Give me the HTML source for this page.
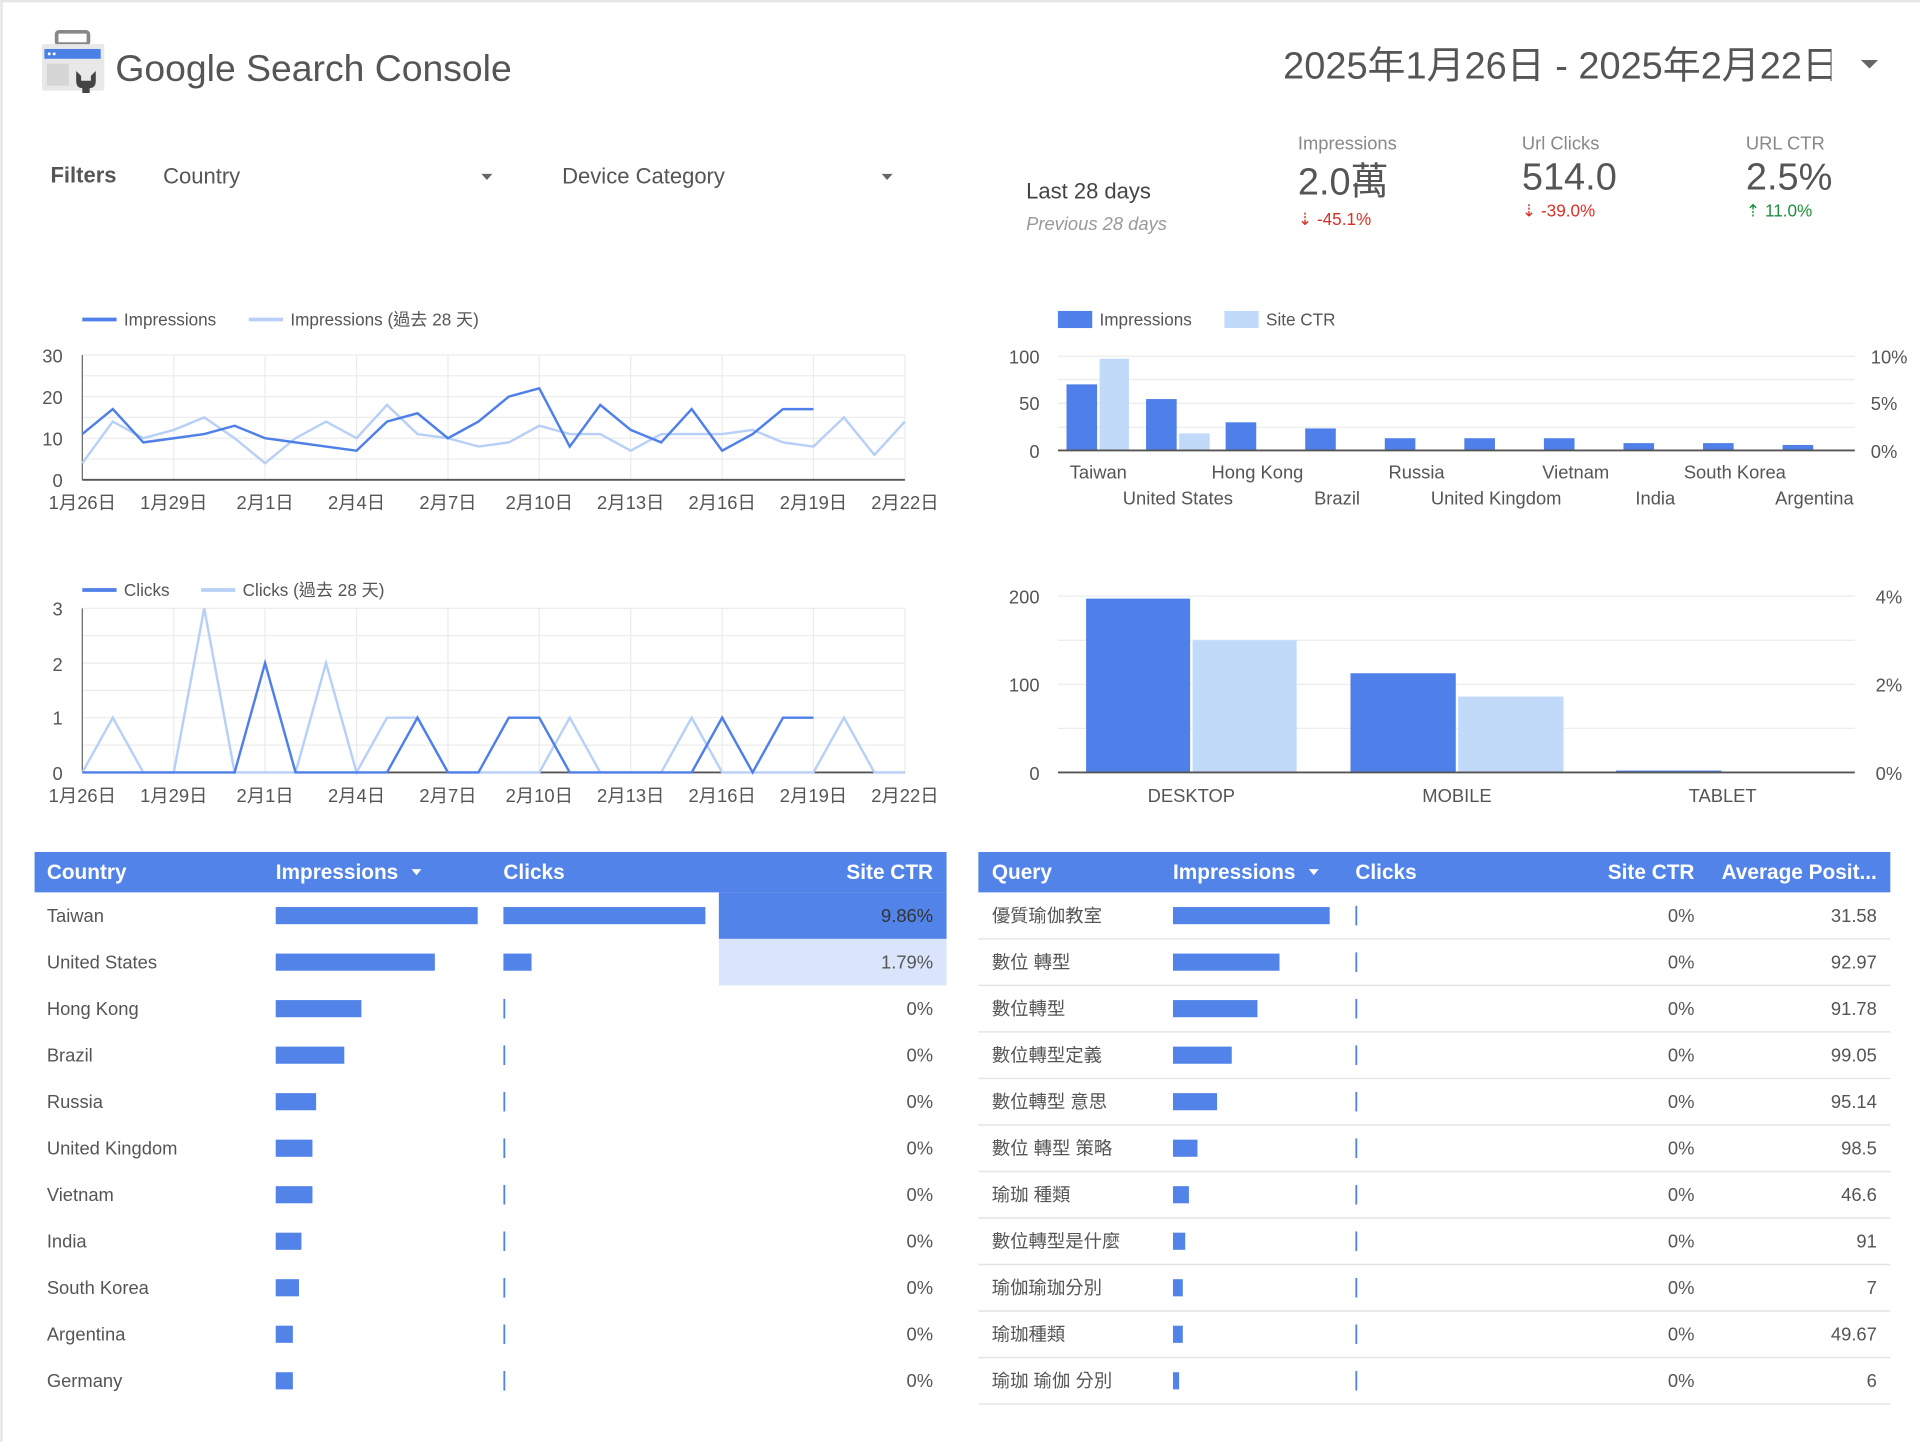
<!DOCTYPE html>
<html><head><meta charset="utf-8"><style>
html,body{margin:0;padding:0;background:#fff;}
svg{display:block;}
text{font-family:"Liberation Sans","Noto Sans CJK TC",sans-serif;}
</style></head><body>
<svg width="1920" height="1442" viewBox="0 0 1568 1178" xmlns="http://www.w3.org/2000/svg">
<rect x="0" y="0" width="1568" height="1178" fill="#fff"/>
<rect x="0" y="0" width="1568" height="2" fill="#e6e6e6"/>
<rect x="0" y="0" width="2" height="1178" fill="#e6e6e6"/>

<!-- logo -->
<rect x="46" y="26" width="26" height="10" rx="2" fill="none" stroke="#888" stroke-width="3"/>
<rect x="34" y="36" width="51" height="38" rx="2" fill="#e8e8e8"/>
<rect x="36" y="40" width="46" height="8" fill="#4a7fe6"/>
<circle cx="40" cy="44" r="1.2" fill="#fff"/><circle cx="44" cy="44" r="1.2" fill="#fff"/>
<rect x="38" y="52" width="18" height="18" fill="#d6d6d6"/>
<path d="M62 58 L62 66 Q62 72 67 72 L67 76 L73 76 L73 72 Q78 72 78 66 L78 58 L74 62 L74 66 L66 66 L66 62 Z" fill="#444"/>
<text x="94" y="66" font-size="30.5" fill="#555">Google Search Console</text>

<svg x="1040" y="20" width="456" height="60"><text x="8" y="44" font-size="31" fill="#555">2025年1月26日 - 2025年2月22日</text></svg>
<path d="M1520 49 L1534 49 L1527 56 Z" fill="#666"/>

<!-- filters -->
<text x="41" y="149" font-size="18" font-weight="bold" fill="#555">Filters</text>
<text x="133" y="150" font-size="18" fill="#555">Country</text>
<path d="M393 142 L402 142 L397.5 147 Z" fill="#666"/>
<text x="459" y="150" font-size="18" fill="#555">Device Category</text>
<path d="M720 142 L729 142 L724.5 147 Z" fill="#666"/>

<!-- KPIs -->
<text x="838" y="162" font-size="18" fill="#444">Last 28 days</text>
<text x="838" y="188" font-size="15" font-style="italic" fill="#999">Previous 28 days</text>
<text x="1060" y="122" font-size="15" fill="#888">Impressions</text>
<text x="1060" y="159" font-size="31" fill="#555">2.0萬</text>
<text x="1060" y="184" font-size="14" fill="#d93025">⇣ -45.1%</text>
<text x="1243" y="122" font-size="15" fill="#888">Url Clicks</text>
<text x="1243" y="155" font-size="31" fill="#555">514.0</text>
<text x="1243" y="177" font-size="14" fill="#d93025">⇣ -39.0%</text>
<text x="1426" y="122" font-size="15" fill="#888">URL CTR</text>
<text x="1426" y="155" font-size="31" fill="#555">2.5%</text>
<text x="1426" y="177" font-size="14" fill="#1e8e3e">⇡ 11.0%</text>

<!-- Impressions line chart -->
<g font-size="14" fill="#555">
<line x1="67" y1="261" x2="95" y2="261" stroke="#4f7fe8" stroke-width="3"/>
<text x="101" y="266">Impressions</text>
<line x1="203" y1="261" x2="231" y2="261" stroke="#b8d0f8" stroke-width="3"/>
<text x="237" y="266">Impressions (過去 28 天)</text>
</g>
<g stroke="#ececec" stroke-width="1">
<line x1="67" y1="290" x2="739" y2="290"/><line x1="67" y1="307" x2="739" y2="307"/>
<line x1="67" y1="324" x2="739" y2="324"/><line x1="67" y1="341" x2="739" y2="341"/>
<line x1="67" y1="358" x2="739" y2="358"/><line x1="67" y1="375" x2="739" y2="375"/>
<line x1="141.7" y1="290" x2="141.7" y2="392"/><line x1="216.3" y1="290" x2="216.3" y2="392"/>
<line x1="291" y1="290" x2="291" y2="392"/><line x1="365.7" y1="290" x2="365.7" y2="392"/>
<line x1="440.3" y1="290" x2="440.3" y2="392"/><line x1="515" y1="290" x2="515" y2="392"/>
<line x1="589.7" y1="290" x2="589.7" y2="392"/><line x1="664.3" y1="290" x2="664.3" y2="392"/>
<line x1="739" y1="290" x2="739" y2="392"/>
</g>
<line x1="67" y1="290" x2="67" y2="392" stroke="#666"/>
<line x1="67" y1="392" x2="739" y2="392" stroke="#555" stroke-width="1.5"/>
<g font-size="15" fill="#555" text-anchor="end">
<text x="51" y="296">30</text><text x="51" y="330">20</text><text x="51" y="364">10</text><text x="51" y="398">0</text>
</g>
<polyline fill="none" stroke="#b8d0f8" stroke-width="2" points="67,378.4 91.9,344.4 116.8,358 141.7,351.2 166.6,341 191.4,358 216.3,378.4 241.2,358 266.1,344.4 291,358 315.9,330.8 340.8,354.6 365.7,358 390.6,364.8 415.4,361.4 440.3,347.8 465.2,354.6 490.1,354.6 515,368.2 539.9,354.6 564.8,354.6 589.7,354.6 614.6,351.2 639.4,361.4 664.3,364.8 689.2,341 714.1,371.6 739,344.4"/>
<polyline fill="none" stroke="#4f7fe8" stroke-width="2" points="67,354.6 91.9,334.2 116.8,361.4 141.7,358 166.6,354.6 191.4,347.8 216.3,358 241.2,361.4 266.1,364.8 291,368.2 315.9,344.4 340.8,337.6 365.7,358 390.6,344.4 415.4,324 440.3,317.2 465.2,364.8 490.1,330.8 515,351.2 539.9,361.4 564.8,334.2 589.7,368.2 614.6,354.6 639.4,334.2 664.3,334.2"/>
<g font-size="15" fill="#555" text-anchor="middle">
<text x="67" y="416">1月26日</text><text x="141.7" y="416">1月29日</text><text x="216.3" y="416">2月1日</text><text x="291" y="416">2月4日</text><text x="365.7" y="416">2月7日</text><text x="440.3" y="416">2月10日</text><text x="515" y="416">2月13日</text><text x="589.7" y="416">2月16日</text><text x="664.3" y="416">2月19日</text><text x="739" y="416">2月22日</text>
</g>

<!-- Clicks line chart -->
<g font-size="14" fill="#555">
<line x1="67" y1="482" x2="95" y2="482" stroke="#4f7fe8" stroke-width="3"/>
<text x="101" y="487">Clicks</text>
<line x1="164" y1="482" x2="192" y2="482" stroke="#b8d0f8" stroke-width="3"/>
<text x="198" y="487">Clicks (過去 28 天)</text>
</g>
<g stroke="#ececec" stroke-width="1">
<line x1="67" y1="497" x2="739" y2="497"/><line x1="67" y1="519.3" x2="739" y2="519.3"/>
<line x1="67" y1="541.7" x2="739" y2="541.7"/><line x1="67" y1="564" x2="739" y2="564"/>
<line x1="67" y1="586.3" x2="739" y2="586.3"/><line x1="67" y1="608.7" x2="739" y2="608.7"/>
<line x1="141.7" y1="497" x2="141.7" y2="631"/><line x1="216.3" y1="497" x2="216.3" y2="631"/>
<line x1="291" y1="497" x2="291" y2="631"/><line x1="365.7" y1="497" x2="365.7" y2="631"/>
<line x1="440.3" y1="497" x2="440.3" y2="631"/><line x1="515" y1="497" x2="515" y2="631"/>
<line x1="589.7" y1="497" x2="589.7" y2="631"/><line x1="664.3" y1="497" x2="664.3" y2="631"/>
<line x1="739" y1="497" x2="739" y2="631"/>
</g>
<line x1="67" y1="497" x2="67" y2="631" stroke="#666"/>
<line x1="67" y1="631" x2="739" y2="631" stroke="#555" stroke-width="1.5"/>
<g font-size="15" fill="#555" text-anchor="end">
<text x="51" y="503">3</text><text x="51" y="548">2</text><text x="51" y="592">1</text><text x="51" y="637">0</text>
</g>
<polyline fill="none" stroke="#b8d0f8" stroke-width="2" points="67,631 91.9,586.3 116.8,631 141.7,631 166.6,497 191.4,631 216.3,631 241.2,631 266.1,541.7 291,631 315.9,586.3 340.8,586.3 365.7,631 390.6,631 415.4,631 440.3,631 465.2,586.3 490.1,631 515,631 539.9,631 564.8,586.3 589.7,631 614.6,631 639.4,631 664.3,631 689.2,586.3 714.1,631 739,631"/>
<polyline fill="none" stroke="#4f7fe8" stroke-width="2" points="67,631 91.9,631 116.8,631 141.7,631 166.6,631 191.4,631 216.3,541.7 241.2,631 266.1,631 291,631 315.9,631 340.8,586.3 365.7,631 390.6,631 415.4,586.3 440.3,586.3 465.2,631 490.1,631 515,631 539.9,631 564.8,631 589.7,586.3 614.6,631 639.4,586.3 664.3,586.3"/>
<g font-size="15" fill="#555" text-anchor="middle">
<text x="67" y="655">1月26日</text><text x="141.7" y="655">1月29日</text><text x="216.3" y="655">2月1日</text><text x="291" y="655">2月4日</text><text x="365.7" y="655">2月7日</text><text x="440.3" y="655">2月10日</text><text x="515" y="655">2月13日</text><text x="589.7" y="655">2月16日</text><text x="664.3" y="655">2月19日</text><text x="739" y="655">2月22日</text>
</g>

<!-- Country bar chart -->
<rect x="864" y="254" width="28" height="14" fill="#4f7fe8"/>
<text x="898" y="266" font-size="14" fill="#555">Impressions</text>
<rect x="1000" y="254" width="28" height="14" fill="#c2dafa"/>
<text x="1034" y="266" font-size="14" fill="#555">Site CTR</text>
<g stroke="#ececec">
<line x1="864" y1="291" x2="1515" y2="291"/><line x1="864" y1="310" x2="1515" y2="310"/>
<line x1="864" y1="329.5" x2="1515" y2="329.5"/><line x1="864" y1="349" x2="1515" y2="349"/>
</g>
<g fill="#4f7fe8">
<rect x="871" y="314" width="25" height="54"/>
<rect x="936" y="326" width="25" height="42"/>
<rect x="1001" y="345" width="25" height="23"/>
<rect x="1066" y="350" width="25" height="18"/>
<rect x="1131" y="358" width="25" height="10"/>
<rect x="1196" y="358" width="25" height="10"/>
<rect x="1261" y="358" width="25" height="10"/>
<rect x="1326" y="362" width="25" height="6"/>
<rect x="1391" y="362" width="25" height="6"/>
<rect x="1456" y="363.5" width="25" height="4.5"/>
</g>
<g fill="#c2dafa">
<rect x="898" y="293" width="24" height="75"/>
<rect x="963" y="354" width="25" height="14"/>
</g>
<line x1="864" y1="368" x2="1515" y2="368" stroke="#555" stroke-width="1.5"/>
<g font-size="15" fill="#555" text-anchor="end">
<text x="849" y="297">100</text><text x="849" y="335">50</text><text x="849" y="374">0</text>
</g>
<g font-size="15" fill="#555">
<text x="1528" y="297">10%</text><text x="1528" y="335">5%</text><text x="1528" y="374">0%</text>
</g>
<g font-size="15" fill="#555" text-anchor="middle">
<text x="897" y="391">Taiwan</text><text x="1027" y="391">Hong Kong</text><text x="1157" y="391">Russia</text><text x="1287" y="391">Vietnam</text><text x="1417" y="391">South Korea</text>
<text x="962" y="412">United States</text><text x="1092" y="412">Brazil</text><text x="1222" y="412">United Kingdom</text><text x="1352" y="412">India</text><text x="1482" y="412">Argentina</text>
</g>

<!-- Device chart -->
<g stroke="#ececec">
<line x1="864" y1="487" x2="1515" y2="487"/><line x1="864" y1="523" x2="1515" y2="523"/>
<line x1="864" y1="559" x2="1515" y2="559"/><line x1="864" y1="595" x2="1515" y2="595"/>
</g>
<rect x="887" y="489" width="85" height="142" fill="#4f7fe8"/>
<rect x="974" y="523" width="85" height="108" fill="#c2dafa"/>
<rect x="1103" y="550" width="86" height="81" fill="#4f7fe8"/>
<rect x="1191" y="569" width="86" height="62" fill="#c2dafa"/>
<rect x="1320" y="629.5" width="86" height="1.5" fill="#4f7fe8"/>
<line x1="864" y1="631" x2="1515" y2="631" stroke="#555" stroke-width="1.5"/>
<g font-size="15" fill="#555" text-anchor="end">
<text x="849" y="493">200</text><text x="849" y="565">100</text><text x="849" y="637">0</text>
</g>
<g font-size="15" fill="#555">
<text x="1532" y="493">4%</text><text x="1532" y="565">2%</text><text x="1532" y="637">0%</text>
</g>
<g font-size="15" fill="#555" text-anchor="middle">
<text x="973" y="655">DESKTOP</text><text x="1190" y="655">MOBILE</text><text x="1407" y="655">TABLET</text>
</g>

<!-- Country table -->
<rect x="28" y="696" width="745" height="33" fill="#5283e8"/>
<g font-size="17" font-weight="bold" fill="#fff">
<text x="38" y="718">Country</text><text x="225" y="718">Impressions</text><text x="411" y="718">Clicks</text><text x="762" y="718" text-anchor="end">Site CTR</text>
</g>
<path d="M336 710 L344 710 L340 715 Z" fill="#fff"/>
<rect x="587" y="729" width="186" height="38" fill="#5283e8"/>
<rect x="587" y="767" width="186" height="38" fill="#dae5fb"/>
<g font-size="15" fill="#555">
<text x="38" y="753">Taiwan</text><text x="38" y="791">United States</text><text x="38" y="829">Hong Kong</text><text x="38" y="867">Brazil</text><text x="38" y="905">Russia</text><text x="38" y="943">United Kingdom</text><text x="38" y="981">Vietnam</text><text x="38" y="1019">India</text><text x="38" y="1057">South Korea</text><text x="38" y="1095">Argentina</text><text x="38" y="1133">Germany</text>
</g>
<g font-size="15" fill="#555" text-anchor="end">
<text x="762" y="753" fill="#333">9.86%</text><text x="762" y="791">1.79%</text><text x="762" y="829">0%</text><text x="762" y="867">0%</text><text x="762" y="905">0%</text><text x="762" y="943">0%</text><text x="762" y="981">0%</text><text x="762" y="1019">0%</text><text x="762" y="1057">0%</text><text x="762" y="1095">0%</text><text x="762" y="1133">0%</text>
</g>
<g fill="#5283e8">
<rect x="225" y="741" width="165" height="14"/><rect x="225" y="779" width="130" height="14"/><rect x="225" y="817" width="70" height="14"/><rect x="225" y="855" width="56" height="14"/><rect x="225" y="893" width="33" height="14"/><rect x="225" y="931" width="30" height="14"/><rect x="225" y="969" width="30" height="14"/><rect x="225" y="1007" width="21" height="14"/><rect x="225" y="1045" width="19" height="14"/><rect x="225" y="1083" width="14" height="14"/><rect x="225" y="1121" width="14" height="14"/>
<rect x="411" y="741" width="165" height="14"/><rect x="411" y="779" width="23" height="14"/>
<rect x="411" y="816" width="1.5" height="16"/><rect x="411" y="854" width="1.5" height="16"/><rect x="411" y="892" width="1.5" height="16"/><rect x="411" y="930" width="1.5" height="16"/><rect x="411" y="968" width="1.5" height="16"/><rect x="411" y="1006" width="1.5" height="16"/><rect x="411" y="1044" width="1.5" height="16"/><rect x="411" y="1082" width="1.5" height="16"/><rect x="411" y="1120" width="1.5" height="16"/>
</g>

<!-- Query table -->
<rect x="799" y="696" width="745" height="33" fill="#5283e8"/>
<g font-size="17" font-weight="bold" fill="#fff">
<text x="810" y="718">Query</text><text x="958" y="718">Impressions</text><text x="1107" y="718">Clicks</text><text x="1384" y="718" text-anchor="end">Site CTR</text><text x="1533" y="718" text-anchor="end">Average Posit...</text>
</g>
<path d="M1069 710 L1077 710 L1073 715 Z" fill="#fff"/>
<g stroke="#e4e4e4" stroke-width="1.2">
<line x1="799" y1="767" x2="1544" y2="767"/><line x1="799" y1="805" x2="1544" y2="805"/><line x1="799" y1="843" x2="1544" y2="843"/><line x1="799" y1="881" x2="1544" y2="881"/><line x1="799" y1="919" x2="1544" y2="919"/><line x1="799" y1="957" x2="1544" y2="957"/><line x1="799" y1="995" x2="1544" y2="995"/><line x1="799" y1="1033" x2="1544" y2="1033"/><line x1="799" y1="1071" x2="1544" y2="1071"/><line x1="799" y1="1109" x2="1544" y2="1109"/><line x1="799" y1="1147" x2="1544" y2="1147"/>
</g>
<g font-size="15" fill="#555">
<text x="810" y="753">優質瑜伽教室</text><text x="810" y="791">數位 轉型</text><text x="810" y="829">數位轉型</text><text x="810" y="867">數位轉型定義</text><text x="810" y="905">數位轉型 意思</text><text x="810" y="943">數位 轉型 策略</text><text x="810" y="981">瑜珈 種類</text><text x="810" y="1019">數位轉型是什麼</text><text x="810" y="1057">瑜伽瑜珈分別</text><text x="810" y="1095">瑜珈種類</text><text x="810" y="1133">瑜珈 瑜伽 分別</text>
</g>
<g font-size="15" fill="#555" text-anchor="end">
<text x="1384" y="753">0%</text><text x="1384" y="791">0%</text><text x="1384" y="829">0%</text><text x="1384" y="867">0%</text><text x="1384" y="905">0%</text><text x="1384" y="943">0%</text><text x="1384" y="981">0%</text><text x="1384" y="1019">0%</text><text x="1384" y="1057">0%</text><text x="1384" y="1095">0%</text><text x="1384" y="1133">0%</text>
<text x="1533" y="753">31.58</text><text x="1533" y="791">92.97</text><text x="1533" y="829">91.78</text><text x="1533" y="867">99.05</text><text x="1533" y="905">95.14</text><text x="1533" y="943">98.5</text><text x="1533" y="981">46.6</text><text x="1533" y="1019">91</text><text x="1533" y="1057">7</text><text x="1533" y="1095">49.67</text><text x="1533" y="1133">6</text>
</g>
<g fill="#5283e8">
<rect x="958" y="741" width="128" height="14"/><rect x="958" y="779" width="87" height="14"/><rect x="958" y="817" width="69" height="14"/><rect x="958" y="855" width="48" height="14"/><rect x="958" y="893" width="36" height="14"/><rect x="958" y="931" width="20" height="14"/><rect x="958" y="969" width="13" height="14"/><rect x="958" y="1007" width="10" height="14"/><rect x="958" y="1045" width="8" height="14"/><rect x="958" y="1083" width="8" height="14"/><rect x="958" y="1121" width="5" height="14"/>
<rect x="1107" y="740" width="1.5" height="16"/><rect x="1107" y="778" width="1.5" height="16"/><rect x="1107" y="816" width="1.5" height="16"/><rect x="1107" y="854" width="1.5" height="16"/><rect x="1107" y="892" width="1.5" height="16"/><rect x="1107" y="930" width="1.5" height="16"/><rect x="1107" y="968" width="1.5" height="16"/><rect x="1107" y="1006" width="1.5" height="16"/><rect x="1107" y="1044" width="1.5" height="16"/><rect x="1107" y="1082" width="1.5" height="16"/><rect x="1107" y="1120" width="1.5" height="16"/>
</g>
</svg>
</body></html>
